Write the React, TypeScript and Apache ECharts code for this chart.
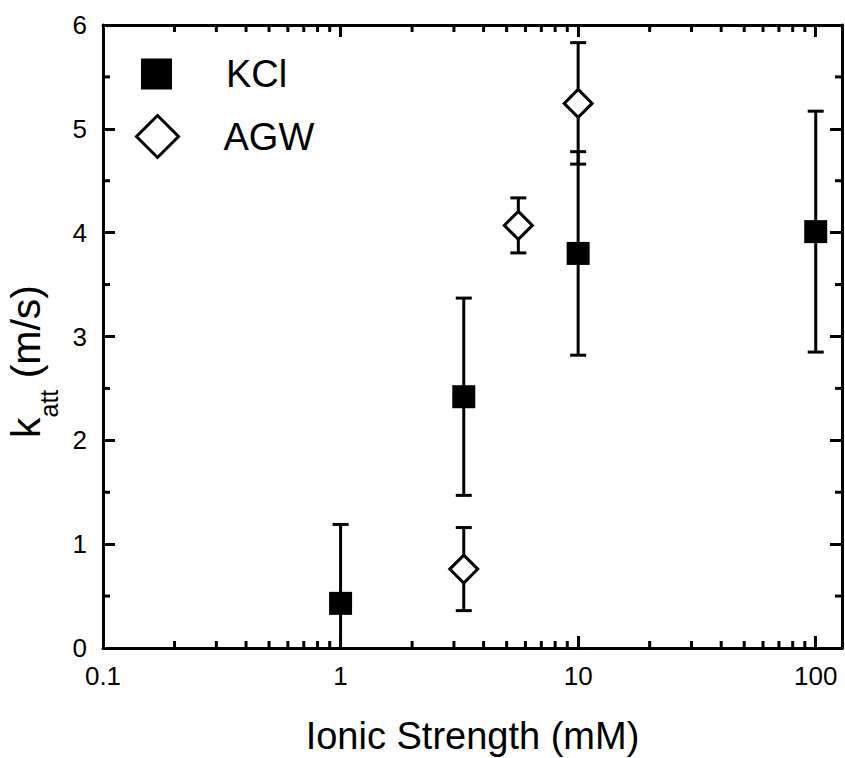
import React, { useEffect, useRef } from "react";
import * as echarts from "echarts";

// ---- data ----
const kclX = [1, 3.3, 10, 100];
const kclY = [0.43, 2.42, 3.8, 4.01];
const kclErr = [0.76, 0.95, 0.98, 1.16];

const agwX = [3.3, 5.6, 10];
const agwY = [0.76, 4.07, 5.245];
const agwErr = [0.4, 0.265, 0.585];

const xTickLabels = ["0.1", "1", "10", "100"];
const xMinorTicks = [
  0.2, 0.3, 0.4, 0.5, 0.6, 0.7, 0.8, 0.9,
  2, 3, 4, 5, 6, 7, 8, 9,
  20, 30, 40, 50, 60, 70, 80, 90,
];
const yMinorTicks = [0.5, 1.5, 2.5, 3.5, 4.5, 5.5];

const X_MIN = 0.1;
const X_MAX = 129;
const Y_MIN = 0;
const Y_MAX = 6;

const FONT = "'Liberation Sans', Arial, Helvetica, sans-serif";
const BLACK = "#000";

export default function App() {
  const ref = useRef<HTMLDivElement>(null);

  useEffect(() => {
    document.body.style.margin = "0";
    if (!ref.current) return;
    const chart = echarts.init(ref.current, null, { renderer: "svg" });

    const errData = (xs: number[], ys: number[], es: number[]) =>
      xs.map((x, i) => [x, ys[i] - es[i], ys[i] + es[i]]);

    const errorRender = (params: any, api: any) => {
      const x = api.value(0);
      const lo = api.value(1);
      const hi = api.value(2);
      const pLo = api.coord([x, lo]);
      const pHi = api.coord([x, hi]);
      const cw = 8;
      const st = { stroke: BLACK, lineWidth: 3 };
      return {
        type: "group",
        children: [
          { type: "line", shape: { x1: pLo[0], y1: pLo[1], x2: pHi[0], y2: pHi[1] }, style: st },
          { type: "line", shape: { x1: pHi[0] - cw, y1: pHi[1], x2: pHi[0] + cw, y2: pHi[1] }, style: st },
          { type: "line", shape: { x1: pLo[0] - cw, y1: pLo[1], x2: pLo[0] + cw, y2: pLo[1] }, style: st },
        ],
      };
    };

    const MINOR_LEN = 7;

    // minor ticks on bottom & top axes: data [x, yBottom, yTop]
    const xMinorRender = (params: any, api: any) => {
      const x = api.value(0);
      const b = api.coord([x, api.value(1)]);
      const t = api.coord([x, api.value(2)]);
      return {
        type: "group",
        children: [
          { type: "line", shape: { x1: b[0], y1: b[1], x2: b[0], y2: b[1] - MINOR_LEN }, style: { stroke: BLACK, lineWidth: 3 } },
          { type: "line", shape: { x1: t[0], y1: t[1], x2: t[0], y2: t[1] + MINOR_LEN }, style: { stroke: BLACK, lineWidth: 3 } },
        ],
      };
    };

    // minor ticks on left & right axes: data [xLeft, y, xRight]
    const yMinorRender = (params: any, api: any) => {
      const y = api.value(1);
      const l = api.coord([api.value(0), y]);
      const r = api.coord([api.value(2), y]);
      return {
        type: "group",
        children: [
          { type: "line", shape: { x1: l[0], y1: l[1], x2: l[0] + MINOR_LEN, y2: l[1] }, style: { stroke: BLACK, lineWidth: 3 } },
          { type: "line", shape: { x1: r[0], y1: r[1], x2: r[0] - MINOR_LEN, y2: r[1] }, style: { stroke: BLACK, lineWidth: 3 } },
        ],
      };
    };

    const xLabelFmt = (v: number) => {
      const l = Math.log10(v);
      const r = Math.round(l);
      if (Math.abs(l - r) < 1e-6 && r + 1 >= 0 && r + 1 < xTickLabels.length) {
        return xTickLabels[r + 1];
      }
      return "";
    };

    const axisLineStyle = { color: BLACK, width: 3 };
    const tickStyle = { color: BLACK, width: 3 };

    chart.setOption({
      animation: false,
      backgroundColor: "#fff",
      grid: {
        left: 103,
        right: 3,
        top: 25,
        bottom: 110,
        containLabel: false,
        outerBoundsMode: "none",
      },
      legend: [
        {
          data: ["KCl"],
          orient: "vertical",
          left: 141,
          top: 55,
          padding: 0,
          itemWidth: 31,
          itemHeight: 31,
          icon: "rect",
          itemStyle: { color: BLACK, borderWidth: 0, opacity: 1 },
          textStyle: { fontSize: 38, fontFamily: FONT, color: BLACK, padding: [0, 0, 0, 49] },
          selectedMode: false,
        },
        {
          data: ["AGW"],
          orient: "vertical",
          left: 135,
          top: 114,
          padding: 0,
          itemWidth: 42,
          itemHeight: 42,
          icon: "diamond",
          itemStyle: { color: "#fff", borderColor: BLACK, borderWidth: 3, opacity: 1 },
          textStyle: { fontSize: 38, fontFamily: FONT, color: BLACK, padding: [0, 0, 0, 40] },
          selectedMode: false,
        },
      ],
      xAxis: [
        {
          type: "log",
          logBase: 10,
          min: X_MIN,
          max: X_MAX,
          position: "bottom",
          name: "Ionic Strength (mM)",
          nameLocation: "middle",
          nameGap: 69,
          nameTextStyle: { fontSize: 38, fontFamily: FONT, color: BLACK },
          axisLine: { show: true, onZero: false, lineStyle: axisLineStyle },
          axisTick: { show: true, inside: true, length: 12, lineStyle: tickStyle },
          axisLabel: {
            show: true,
            margin: 15,
            fontSize: 26,
            fontFamily: FONT,
            color: BLACK,
            formatter: xLabelFmt,
            showMaxLabel: false,
          },
          splitLine: { show: false },
        },
        {
          type: "log",
          logBase: 10,
          min: X_MIN,
          max: X_MAX,
          position: "top",
          axisLine: { show: true, onZero: false, lineStyle: axisLineStyle },
          axisTick: { show: true, inside: true, length: 12, lineStyle: tickStyle },
          axisLabel: { show: false },
          splitLine: { show: false },
        },
      ],
      yAxis: [
        {
          type: "value",
          min: Y_MIN,
          max: Y_MAX,
          interval: 1,
          position: "left",
          name: "{k|k}{s|att}{u| (m/s)}",
          nameLocation: "middle",
          nameRotate: 90,
          nameGap: 40,
          nameTextStyle: {
            fontSize: 41,
            fontFamily: FONT,
            color: BLACK,
            padding: [0, 50, 0, 0],
            rich: {
              k: { fontSize: 41, lineHeight: 41, fontFamily: FONT, color: BLACK, verticalAlign: "top" },
              s: { fontSize: 25, lineHeight: 25, fontFamily: FONT, color: BLACK, verticalAlign: "top", padding: [31, 0, 0, 0] },
              u: { fontSize: 41, lineHeight: 41, fontFamily: FONT, color: BLACK, verticalAlign: "top" },
            },
          },
          axisLine: { show: true, onZero: false, lineStyle: axisLineStyle },
          axisTick: { show: true, inside: true, length: 12, lineStyle: tickStyle },
          axisLabel: { show: true, margin: 16, fontSize: 26, fontFamily: FONT, color: BLACK },
          splitLine: { show: false },
        },
        {
          type: "value",
          min: Y_MIN,
          max: Y_MAX,
          interval: 1,
          position: "right",
          axisLine: { show: true, onZero: false, lineStyle: axisLineStyle },
          axisTick: { show: true, inside: true, length: 12, lineStyle: tickStyle },
          axisLabel: { show: false },
          splitLine: { show: false },
        },
      ],
      series: [
        {
          name: "KCl error",
          type: "custom",
          renderItem: errorRender,
          data: errData(kclX, kclY, kclErr),
          clip: true,
          silent: true,
          z: 2,
        },
        {
          name: "AGW error",
          type: "custom",
          renderItem: errorRender,
          data: errData(agwX, agwY, agwErr),
          clip: true,
          silent: true,
          z: 2,
        },
        {
          name: "KCl",
          type: "scatter",
          symbol: "rect",
          symbolSize: 23,
          itemStyle: { color: BLACK, opacity: 1 },
          data: kclX.map((x, i) => [x, kclY[i]]),
          z: 3,
        },
        {
          name: "AGW",
          type: "scatter",
          symbol: "diamond",
          symbolSize: 28,
          itemStyle: { color: "#fff", borderColor: BLACK, borderWidth: 3, opacity: 1 },
          data: agwX.map((x, i) => [x, agwY[i]]),
          z: 3,
        },
        {
          name: "minor ticks x",
          type: "custom",
          renderItem: xMinorRender,
          data: xMinorTicks.map((v) => [v, Y_MIN, Y_MAX]),
          silent: true,
          z: 2,
        },
        {
          name: "minor ticks y",
          type: "custom",
          renderItem: yMinorRender,
          data: yMinorTicks.map((v) => [X_MIN, v, X_MAX]),
          silent: true,
          z: 2,
        },
      ],
    });

    return () => chart.dispose();
  }, []);

  return <div ref={ref} style={{ width: 845, height: 758, background: "#fff" }} />;
}
